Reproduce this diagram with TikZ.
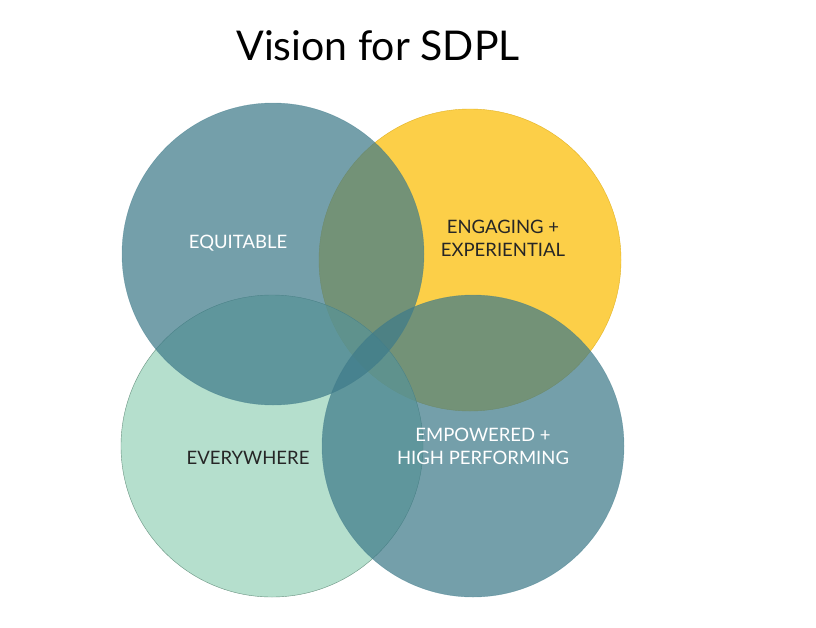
\documentclass[tikz,border=0pt]{standalone}
\usepackage{fontspec}
\setmainfont{Lato}
\definecolor{tealc}{RGB}{63,123,138}
\definecolor{yel}{RGB}{252,199,40}
\definecolor{grn}{RGB}{150,210,185}
\begin{document}
\begin{tikzpicture}[x=1pt,y=-1pt,
  circ/.style={circle,minimum size=302pt,inner sep=0pt},
  lbl/.style={font=\fontsize{18.5}{23}\selectfont,align=center}]
\useasboundingbox (0,0) rectangle (816,627);
\fill[white] (0,0) rectangle (816,627);
\node[font=\fontsize{41}{46}\selectfont] (title) at (378,46) {Vision for SDPL};
\node[circ,fill=yel,fill opacity=0.85,draw=yel!90!black] (en) at (470,260) {};
\node[circ,fill=grn,fill opacity=0.7,draw=grn!70!black] (ev) at (272,446) {};
\node[circ,fill=tealc,fill opacity=0.72,draw=tealc,draw opacity=0.5] (eq) at (273,254) {};
\node[circ,fill=tealc,fill opacity=0.72,draw=tealc,draw opacity=0.5] (em) at (473,446) {};
\node[lbl,text=white] at (238,243) {EQUITABLE};
\node[lbl,text=black!85] at (503,238) {ENGAGING +\\EXPERIENTIAL};
\node[lbl,text=black!85] at (248,458) {EVERYWHERE};
\node[lbl,text=white] at (483,446) {EMPOWERED +\\HIGH PERFORMING};
\end{tikzpicture}
\end{document}
